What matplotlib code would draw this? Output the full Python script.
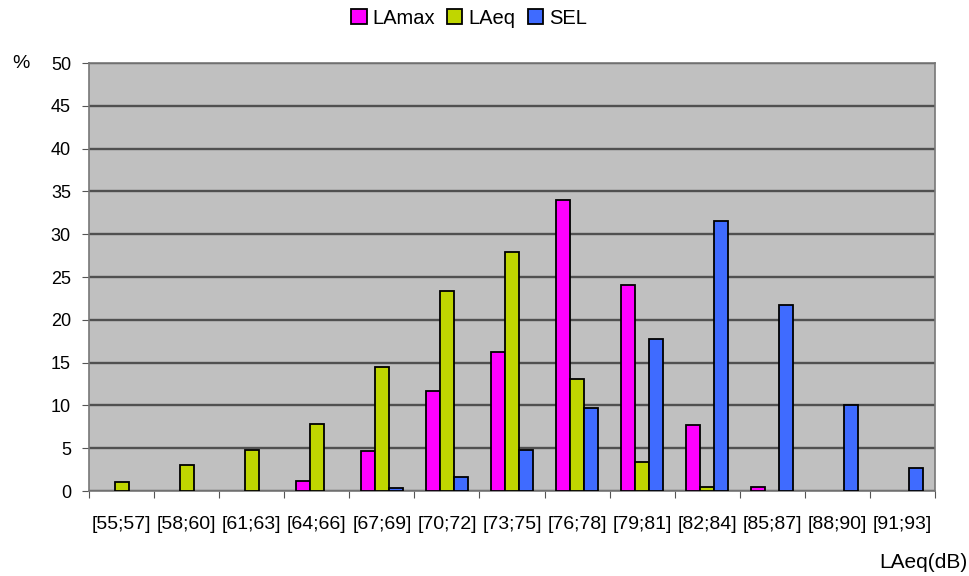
import matplotlib
matplotlib.use("Agg")
import matplotlib.pyplot as plt
import numpy as np

categories = ["[55;57]", "[58;60]", "[61;63]", "[64;66]", "[67;69]", "[70;72]", "[73;75]",
              "[76;78]", "[79;81]", "[82;84]", "[85;87]", "[88;90]", "[91;93]"]
lamax = [0, 0, 0, 1.2, 4.7, 11.7, 16.2, 34.0, 24.1, 7.7, 0.5, 0, 0]
laeq = [1.1, 3.0, 4.8, 7.8, 14.5, 23.4, 27.9, 13.1, 3.4, 0.5, 0, 0, 0]
sel = [0, 0, 0, 0, 0.4, 1.6, 4.8, 9.7, 17.7, 31.6, 21.7, 10.0, 2.7]
series_names = ["LAmax", "LAeq", "SEL"]
colors = ["#FF00FF", "#C0D600", "#3F6BFF"]
yticks = list(range(0, 51, 5))

plt.rcParams['font.family'] = ['Liberation Sans', 'DejaVu Sans']

fig = plt.figure(figsize=(9.7, 5.76), dpi=100)
ax = fig.add_axes([89/970, 85/576, (935-89)/970, (491-63)/576])
ax.set_facecolor("#C0C0C0")

x = np.arange(len(categories))
w = 0.215
for i, (vals, name, c) in enumerate(zip([lamax, laeq, sel], series_names, colors)):
    lw = [1.3 if v > 0 else 0 for v in vals]
    ax.bar(x + (i - 1) * w, vals, width=w, color=c, edgecolor="black", linewidth=lw,
           label=name, zorder=3)

ax.set_xlim(-0.5, len(categories) - 0.5)
ax.set_ylim(0, 50)
ax.set_yticks(yticks)
ax.set_yticklabels([str(v) for v in yticks], fontsize=13)
ax.yaxis.grid(True, color="#505050", linewidth=1.7, zorder=1)
ax.set_axisbelow(True)

ax.set_xticks(np.arange(len(categories) + 1) - 0.5, minor=False)
ax.set_xticklabels([])
ax.set_xticks(x, minor=True)
ax.set_xticklabels(categories, minor=True, fontsize=14)
ax.tick_params(axis="x", which="minor", length=0, pad=18)
ax.tick_params(axis="x", which="major", length=5, color="#555555")
ax.tick_params(axis="y", length=5, color="#555555", pad=8)

for s in ax.spines.values():
    s.set_color("#777777")
    s.set_linewidth(1.2)

fig.text(12/970, 1 - 63/576, "%", fontsize=14, ha="left", va="center")
fig.text(968/970, 1 - 563/576, "LAeq(dB)", fontsize=15, ha="right", va="center")

handles, labels = ax.get_legend_handles_labels()
leg = fig.legend(handles, labels, loc="center", bbox_to_anchor=(469/970, 1 - 18/576), ncol=3,
                 frameon=False, fontsize=14.5, handlelength=0.75, handleheight=0.75,
                 handletextpad=0.3, columnspacing=0.6)
for h in leg.legend_handles:
    h.set_linewidth(1.3)
    h.set_edgecolor("black")

fig.savefig("out.png", dpi=100)
